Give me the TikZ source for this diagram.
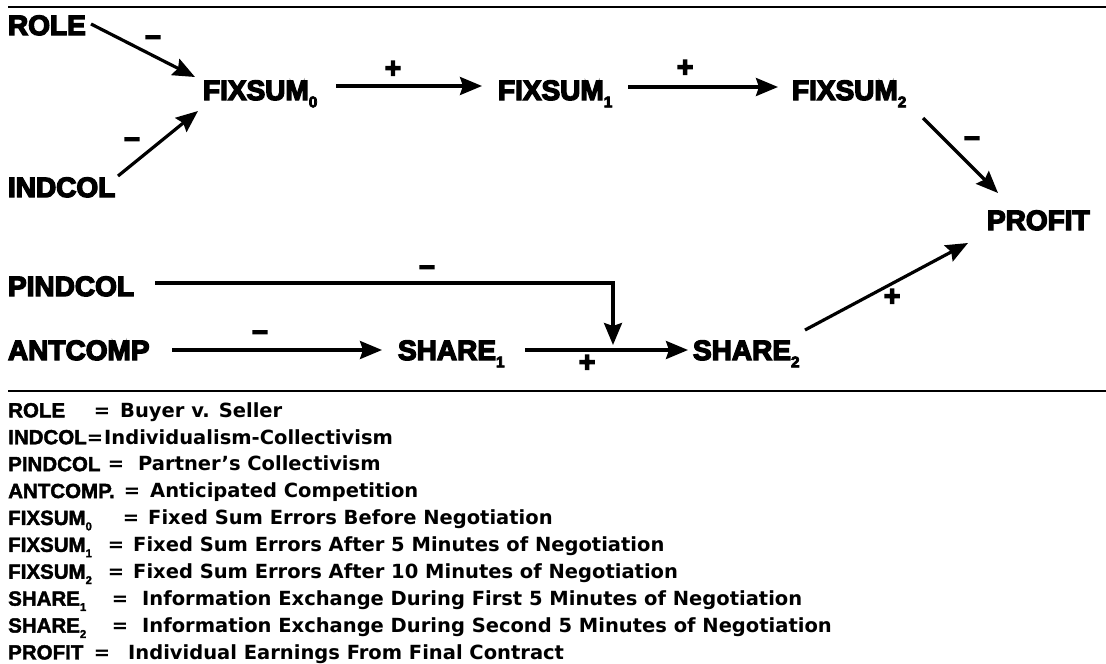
\documentclass[tikz,border=0pt]{standalone}
\usepackage{fontspec}
\setmainfont{Liberation Sans}
\newfontfamily\heavy{Liberation Sans Bold}[FakeBold=5]
\newfontfamily\legn{Liberation Sans Bold}[FakeBold=2]
\newfontfamily\legf{DejaVu Sans Bold}
\usetikzlibrary{arrows.meta}
\newcommand{\dsub}[1]{\raisebox{-0.26em}{\scalebox{0.55}{#1}}}
\begin{document}
\begin{tikzpicture}[x=1pt,y=-1pt,
  var/.style={inner sep=0pt, outer sep=0pt, anchor=west, font={\heavy\fontsize{28}{28}\selectfont}, text height=20pt, text depth=0pt},
  msign/.style={inner sep=0pt, font={\heavy\fontsize{28}{28}\selectfont}, text height=0.54em, text depth=0pt},
  psign/.style={inner sep=0pt, font={\heavy\fontsize{28}{28}\selectfont}, text height=0.70em, text depth=0pt},
  arr/.style={line width=3.2pt, line join=miter, -{Stealth[length=22pt,width=18pt,inset=3pt]}},
  leg/.style={inner sep=0pt, anchor=west, font={\legf\fontsize{19.5}{19.5}\selectfont}, text height=14.2pt, text depth=0pt},
  legname/.style={leg, font={\legn\fontsize{20.5}{20.5}\selectfont}, text height=14.7pt},
  rulel/.style={line width=2.4pt}]
\useasboundingbox (0,0) rectangle (1106,664);
% rules
\draw[rulel] (8,7) -- (1106,7);
\draw[rulel] (8,391) -- (1106,391);
% variables
\node[var] (ROLE) at (8,25) {ROLE};
\node[var] (INDCOL) at (8,187) {INDCOL};
\node[var] (PINDCOL) at (8,286) {PINDCOL};
\node[var] (ANTCOMP) at (8,350) {ANTCOMP};
\node[var] (FIX0) at (203,90) {FIXSUM\dsub{0}};
\node[var] (FIX1) at (498,90) {FIXSUM\dsub{1}};
\node[var] (FIX2) at (792,90) {FIXSUM\dsub{2}};
\node[var] (PROFIT) at (987,220) {PROFIT};
\node[var] (SH1) at (398,350) {SHARE\dsub{1}};
\node[var] (SH2) at (693,350) {SHARE\dsub{2}};
% arrows
\draw[arr] ([shift={(83,-1)}]ROLE.west) -- ([shift={(-8,-13)}]FIX0.west);
\draw[arr] ([shift={(110,-11)}]INDCOL.west) -- ([shift={(-5,21)}]FIX0.west);
\draw[arr] ([shift={(133,-4)}]FIX0.west) -- ([shift={(-16,-4)}]FIX1.west);
\draw[arr] ([shift={(130,-3)}]FIX1.west) -- ([shift={(-14,-3)}]FIX2.west);
\draw[arr] ([shift={(131,28)}]FIX2.west) -- ([shift={(11,-27)}]PROFIT.west);
\draw[arr] ([shift={(112,-20)}]SH2.west) -- ([shift={(-19,23)}]PROFIT.west);
\draw[arr] ([shift={(164,0)}]ANTCOMP.west) -- ([shift={(-16,0)}]SH1.west);
\draw[arr] ([shift={(127,0)}]SH1.west) -- ([shift={(-5,0)}]SH2.west);
\draw[arr] ([shift={(147,-3)}]PINDCOL.west) -| ([shift={(215,-5)}]SH1.west);
% signs
\node[msign] (s1) at (153,42) {–};
\node[msign] (s2) at (132,144) {–};
\node[psign] (s3) at (393,74) {+};
\node[psign] (s4) at (685,73) {+};
\node[msign] (s5) at (972,143) {–};
\node[psign] (s6) at (892,302) {+};
\node[msign] (s7) at (260,337) {–};
\node[psign] (s8) at (587,368) {+};
\node[msign] (s9) at (427,272) {–};
% legend
\foreach \name/\ex/\dx/\txt [count=\i] in {
 ROLE/102/120/Buyer v. Seller,
 INDCOL/95/104/Individualism-Collectivism,
 PINDCOL/116/138/Partner’s Collectivism,
 ANTCOMP./132/150/Anticipated Competition,
 {FIXSUM\dsub{0}}/131/148/Fixed Sum Errors Before Negotiation,
 {FIXSUM\dsub{1}}/116/133/Fixed Sum Errors After 5 Minutes of Negotiation,
 {FIXSUM\dsub{2}}/116/133/Fixed Sum Errors After 10 Minutes of Negotiation,
 {SHARE\dsub{1}}/120/142/Information Exchange During First 5 Minutes of Negotiation,
 {SHARE\dsub{2}}/120/142/Information Exchange During Second 5 Minutes of Negotiation,
 PROFIT/102/128/Individual Earnings From Final Contract}
{
 \pgfmathsetmacro\yy{410+26.9*(\i-1)}
 \node[legname] (n\i) at (8,\yy) {\name};
 \node[leg, anchor=center] (e\i) at (\ex,\yy) {=};
 \node[leg] (d\i) at (\dx,\yy) {\txt};
}
\end{tikzpicture}
\end{document}
